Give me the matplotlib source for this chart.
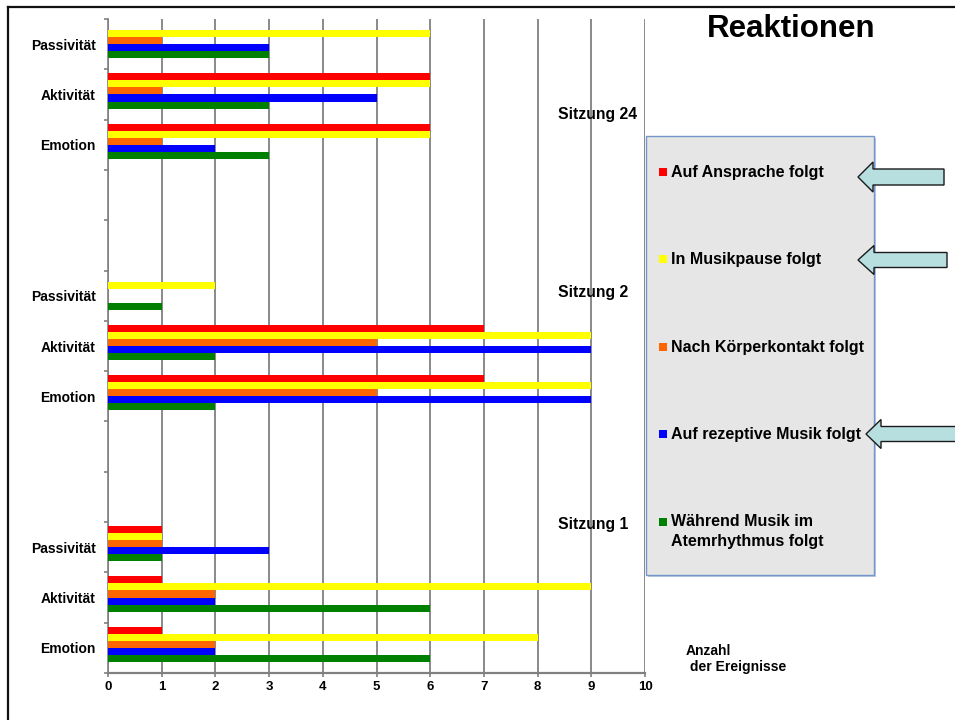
import numpy as np
import matplotlib
matplotlib.use('Agg')
import matplotlib.pyplot as plt
from matplotlib.patches import Rectangle, Polygon

plt.rcParams['font.family'] = ['Liberation Sans', 'DejaVu Sans']
plt.rcParams['font.weight'] = 'bold'

# Sitzungen von unten nach oben, je drei Kategorien
sessions = ['Sitzung 1', 'Sitzung 2', 'Sitzung 24']
categories = ['Emotion', 'Aktivität', 'Passivität']

series_names = ['Auf Ansprache folgt', 'In Musikpause folgt', 'Nach Körperkontakt folgt',
                'Auf rezeptive Musik folgt', 'Während Musik im\nAtemrhythmus folgt']
series_colors = ['#ff0000', '#ffff00', '#ff6600', '#0000ff', '#008000']

# Werte: S1 Emo/Akt/Pass, S2 Emo/Akt/Pass, S24 Emo/Akt/Pass
ansprache = [1, 1, 1, 7, 7, 0, 6, 6, 0]
musikpause = [8, 9, 1, 9, 9, 2, 6, 6, 6]
koerperkontakt = [2, 2, 1, 5, 5, 0, 1, 1, 1]
rezeptiv = [2, 2, 3, 9, 9, 0, 2, 5, 3]
atemrhythmus = [6, 6, 1, 2, 2, 1, 3, 3, 3]
series = [ansprache, musikpause, koerperkontakt, rezeptiv, atemrhythmus]

W, H = 955, 720


def px(x, y):
    return x / W, 1 - y / H


fig = plt.figure(figsize=(W / 100, H / 100), dpi=100)
ax = fig.add_axes([108 / W, 47 / H, 537 / W, 654 / H])

# Positionen: 3 Kategorien je Sitzung, 2 leere Zeilen dazwischen
ypos = []
for s in range(len(sessions)):
    for c in range(len(categories)):
        ypos.append(s * 5 + c)
ypos = np.array(ypos)
n_slots = 5 * (len(sessions) - 1) + len(categories)

bh = 0.14
shift = 0.07
for i, (vals, col) in enumerate(zip(series, series_colors)):
    off = (2 - i) * bh + shift
    ax.barh(ypos + off, vals, height=bh, color=col, zorder=3)

ax.set_xlim(0, 10)
ax.set_ylim(-0.5, n_slots - 0.5)
ax.set_xticks(range(11))
ax.xaxis.grid(True, color='#808080', lw=1.3, zorder=1)
ax.set_axisbelow(True)
ax.tick_params(axis='x', length=3, width=1.2, color='#808080', pad=3, labelsize=9.5)

ax.set_yticks(np.arange(-0.5, n_slots, 1.0))
ax.set_yticklabels([])
ax.set_yticks(ypos, categories * len(sessions), minor=True)
ax.tick_params(axis='y', which='major', length=3, width=1.2, color='#808080')
ax.tick_params(axis='y', which='minor', length=0, pad=9, labelsize=10)

for side in ['top', 'right']:
    ax.spines[side].set_visible(False)
ax.spines['left'].set_color('#808080')
ax.spines['left'].set_linewidth(1.2)
ax.spines['bottom'].set_color('#808080')
ax.spines['bottom'].set_linewidth(1.6)

# Rahmen oben und links
fig.add_artist(plt.Line2D([8 / W, 954 / W], [1 - 7 / H, 1 - 7 / H], color='#111111', lw=1.6))
fig.add_artist(plt.Line2D([8 / W, 8 / W], [1 - 7 / H, 0], color='#111111', lw=1.6))

fig.text(*px(791, 29), 'Reaktionen', fontsize=22.5, ha='center', va='center')
for label, y in zip(sessions, [525, 292, 115]):
    fig.text(*px(558, y), label, fontsize=11.3, ha='left', va='center')
fig.text(*px(686, 659), 'Anzahl\n der Ereignisse', fontsize=10, ha='left', va='center',
         linespacing=1.25)

# Legende
x0, y0, x1, y1 = 646, 136, 874, 575
fig.add_artist(Rectangle(px(x0 + 2, y1 + 2), (x1 - x0) / W, (y1 - y0) / H,
                         transform=fig.transFigure, facecolor='#b8cce4', edgecolor='none'))
fig.add_artist(Rectangle(px(x0, y1), (x1 - x0) / W, (y1 - y0) / H,
                         transform=fig.transFigure, facecolor='#e6e6e6',
                         edgecolor='#7397cb', lw=1))
for name, col, y in zip(series_names, series_colors, [172, 259, 347, 434, 522]):
    fig.add_artist(Rectangle(px(659, y + 4), 8 / W, 8 / H, transform=fig.transFigure,
                             facecolor=col, edgecolor='none'))
    n_lines = name.count('\n') + 1
    fig.text(*px(671, y + (n_lines - 1) * 9.5), name, fontsize=11.5, ha='left', va='center',
             linespacing=1.35)

# Pfeile
def arrow(tip_x, tip_y, base_x, tail_x, head_h, shaft_h):
    pts = [(tip_x, tip_y), (base_x, tip_y - head_h), (base_x, tip_y - shaft_h),
           (tail_x, tip_y - shaft_h), (tail_x, tip_y + shaft_h), (base_x, tip_y + shaft_h),
           (base_x, tip_y + head_h)]
    fig.add_artist(Polygon([px(x, y) for x, y in pts], closed=True, transform=fig.transFigure,
                           facecolor='#b7dfe0', edgecolor='#1a1a1a', lw=1))


arrow(858, 177, 873, 944, 15, 8)
arrow(858, 260, 874, 947, 14.5, 7.5)
arrow(866, 434, 881, 962, 14.5, 7.5)

fig.savefig('out.png', dpi=100)
